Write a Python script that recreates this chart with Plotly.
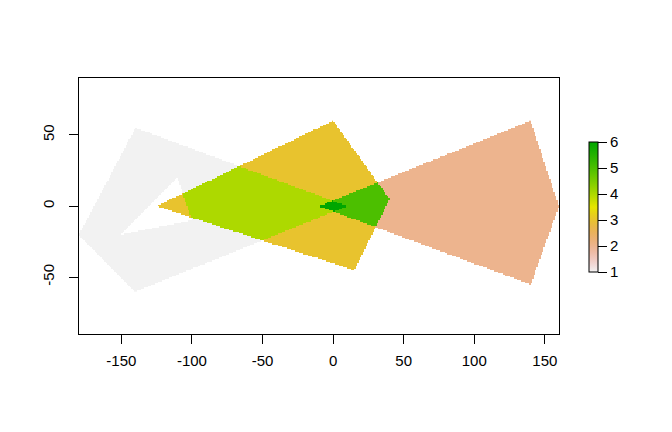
'''
    Rasterized overlapping polygons (sum of polygon values), drawn as a heatmap.
'''
import colorsys

import numpy as np
import plotly.graph_objects as go

# polygon outlines (x, y) and the value each one adds to the cells it covers
P1_X = [-180, -140, 10, -140, -180]
P1_Y = [-20, 55, 0, -60, -20]
HOLE_X = [-150, -100, -110, -150]
HOLE_Y = [-20, -10, 20, -20]
P2_X = [-10, 140, 160, 140, -10]
P2_Y = [0, 60, 0, -55, 0]
P3_X = [-125, 0, 40, 15, -125]
P3_Y = [0, 60, 5, -45, 0]
POLY_VALUES = [1, 2, 3]

X_TICKS = [-150, -100, -50, 0, 50, 100, 150]
X_LABELS = ["-150", "-100", "-50", "0", "50", "100", "150"]
Y_TICKS = [-50, 0, 50]
Y_LABELS = ["-50", "0", "50"]
LEGEND_TICKS = [1, 2, 3, 4, 5, 6]

FONT = "Liberation Sans, Arial, sans-serif"


def inside(px, py, xs, ys):
    '''
        Even-odd point in polygon test on a grid of points.
    '''
    res = np.zeros(px.shape, dtype=bool)
    n = len(xs)
    for i in range(n - 1):
        x1, y1, x2, y2 = xs[i], ys[i], xs[i + 1], ys[i + 1]
        if y1 == y2:
            continue
        cond = (y1 > py) != (y2 > py)
        xcross = x1 + (py - y1) * (x2 - x1) / (y2 - y1)
        res ^= cond & (px < xcross)
    return res


def terrain_scale(n=21):
    '''
        Reversed R terrain.colors as a plotly colorscale.
    '''
    stops = []
    for i in range(n):
        t = i / (n - 1)
        if t <= 0.5:
            p = 1 - 2 * t  # 0 at yellow, 1 at grey-white
            h, s, v = 2 / 12 * (1 - p), 1 - p, 0.9 + 0.05 * p
        else:
            q = 2 * (1 - t)  # 0 at green, 1 at yellow
            h, s, v = 4 / 12 - 2 / 12 * q, 1, 0.65 + 0.25 * q
        r, g, b = colorsys.hsv_to_rgb(h, s, v)
        stops.append([t, "rgb(%d,%d,%d)" % (round(r * 255), round(g * 255), round(b * 255))])
    return stops


xc = np.arange(-179.5, 160, 1.0)
yc = np.arange(-59.5, 60, 1.0)
gx, gy = np.meshgrid(xc, yc)

z = np.zeros(gx.shape)
m1 = inside(gx, gy, P1_X, P1_Y) & ~inside(gx, gy, HOLE_X, HOLE_Y)
m2 = inside(gx, gy, P2_X, P2_Y)
m3 = inside(gx, gy, P3_X, P3_Y)
for mask, val in zip([m1, m2, m3], POLY_VALUES):
    z[mask] += val
z[z == 0] = np.nan

fig = go.Figure(go.Heatmap(
    x=xc, y=yc, z=z,
    zmin=1, zmax=6,
    colorscale=terrain_scale(),
    hoverongaps=False,
    colorbar=dict(
        x=(589 - 79) / 480, xanchor="left", xpad=0,
        y=(334 - 207) / 256, yanchor="middle", ypad=0,
        len=130, lenmode="pixels",
        thickness=9,
        outlinewidth=1, outlinecolor="black",
        tickvals=LEGEND_TICKS,
        tickprefix="\u00a0",
        ticks="outside", ticklen=9, tickcolor="black",
        tickfont=dict(family=FONT, size=15, color="black"),
    ),
))

axis_style = dict(
    showgrid=False, zeroline=False,
    showline=True, linecolor="black", linewidth=1, mirror=True,
    ticks="outside", ticklen=9, tickcolor="black", tickwidth=1,
    tickfont=dict(family=FONT, size=15, color="black"),
)
fig.update_xaxes(range=[-180, 160], tickvals=X_TICKS, ticktext=X_LABELS,
                 ticklabelstandoff=4, **axis_style)
fig.update_yaxes(range=[-90, 90], tickvals=Y_TICKS, ticktext=Y_LABELS,
                 tickangle=-90, ticklabelstandoff=9, **axis_style)

# the page body adds 8px around the figure, so the figure is 16px smaller
fig.update_layout(
    width=656, height=416,
    margin=dict(l=71, r=105, t=70, b=90),
    paper_bgcolor="white", plot_bgcolor="white",
    font=dict(family=FONT, size=15, color="black"),
    showlegend=False,
)

fig.write_html("out.html")
